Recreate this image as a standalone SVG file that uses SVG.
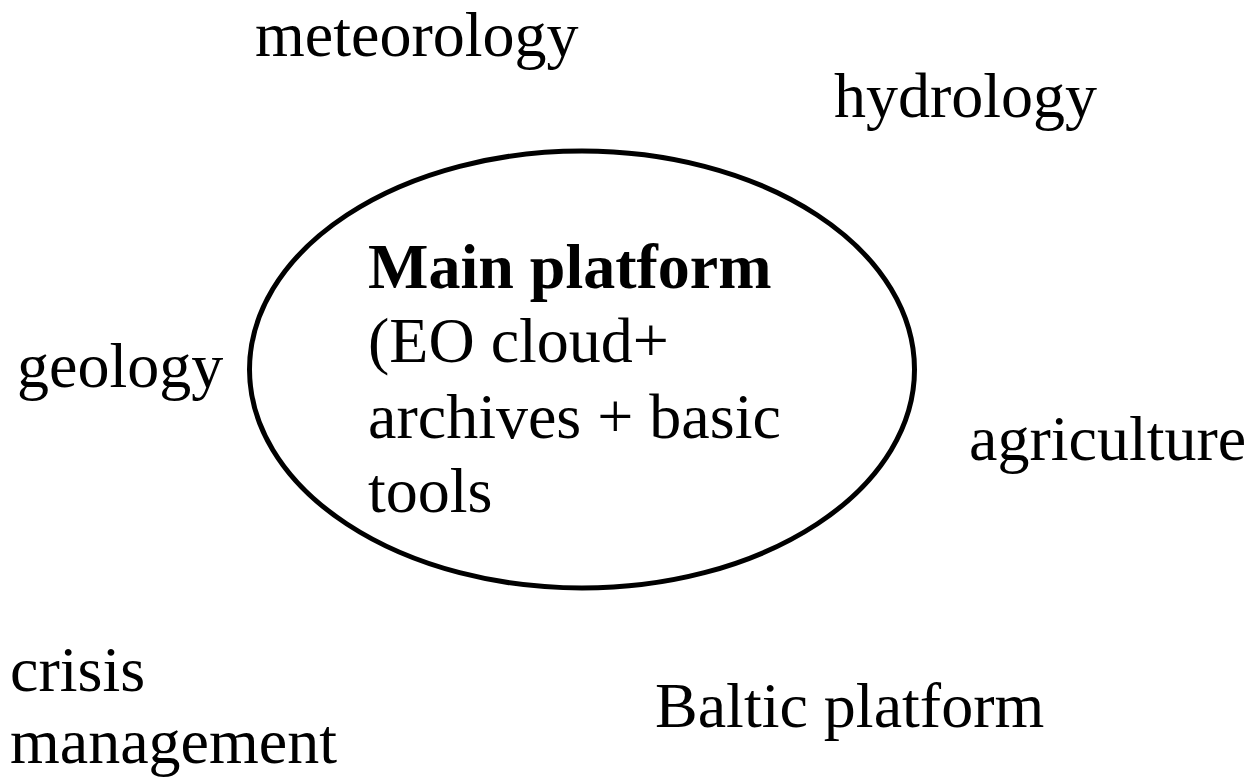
<svg xmlns="http://www.w3.org/2000/svg" width="1253" height="778" viewBox="0 0 1253 778">
<style>
text{font-family:"Liberation Serif","Times New Roman",serif;font-size:64px;fill:#000}
.b{font-weight:bold}
</style>
<rect width="1253" height="778" fill="#fff"/>
<g id="main">
<ellipse cx="582" cy="369.5" rx="332.5" ry="218.5" fill="none" stroke="#000" stroke-width="5"/>
<text class="b" x="368" y="288">Main platform</text>
<text x="368" y="362">(EO cloud+</text>
<text x="368" y="438">archives + basic</text>
<text x="368" y="512">tools</text>
</g>
<g id="meteorology"><text x="255" y="56">meteorology</text></g>
<g id="hydrology"><text x="834" y="117">hydrology</text></g>
<g id="geology"><text x="17" y="387">geology</text></g>
<g id="agriculture"><text x="969" y="460">agriculture</text></g>
<g id="crisis"><text x="10" y="691">crisis</text><text x="10" y="763">management</text></g>
<g id="baltic"><text x="655" y="727">Baltic platform</text></g>
<g id="connectors"/>
</svg>
